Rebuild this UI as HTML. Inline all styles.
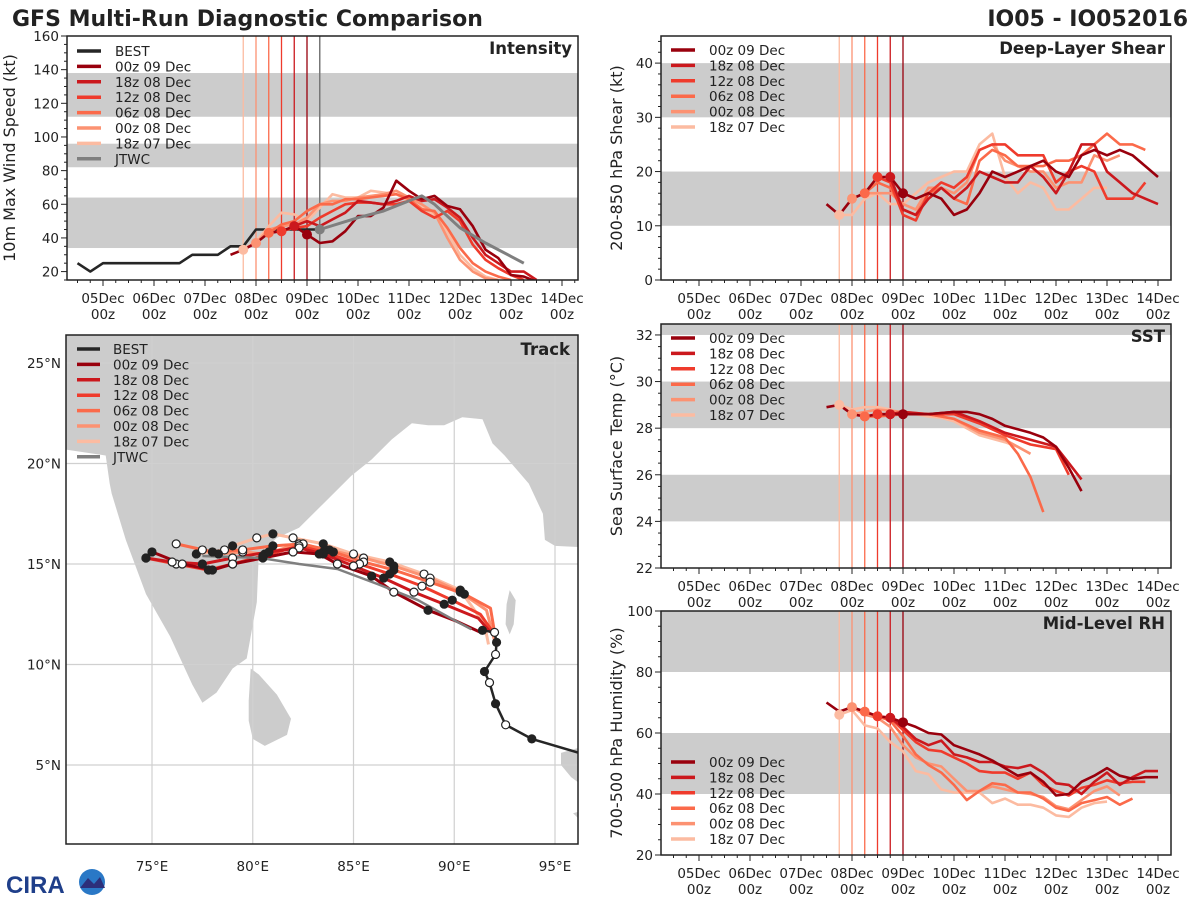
<!DOCTYPE html>
<html><head><meta charset="utf-8">
<style>
html,body{margin:0;padding:0;background:#fff;}
svg{display:block;font-family:"DejaVu Sans","Liberation Sans",sans-serif;}
</style></head>
<body>
<svg id="fig" width="1200" height="900" viewBox="0 0 1200 900" xmlns="http://www.w3.org/2000/svg">
<text x="12" y="26" font-size="22" font-weight="bold" fill="#222">GFS Multi-Run Diagnostic Comparison</text>
<text x="1188" y="26" font-size="22" font-weight="bold" fill="#222" text-anchor="end">IO05 - IO052016</text>
<g>
<text x="6" y="893" font-size="24" font-weight="bold" fill="#1f3f8a" font-family="Liberation Sans, sans-serif">CIRA</text>
<circle cx="92" cy="882" r="13" fill="#2a78c6"/>
<path d="M80,888 L88,878 L94,884 L100,877 L105,888 Z" fill="#2d2f7a"/>
</g>
</svg>
<script>
// ---------- DATA ----------
const modelNames = ["00z 09 Dec","18z 08 Dec","12z 08 Dec","06z 08 Dec","00z 08 Dec","18z 07 Dec"];
const modelColors = ["#99000d","#cb181d","#ef3b2c","#fb6a4a","#fc9272","#fcbba1"];
const modelInitTimes = [4.0,3.75,3.5,3.25,3.0,2.75]; // days since 05Dec 00z
const modelStartTimes = [2.5,3.75,3.5,3.25,3.0,2.75];
const timeStep = 0.25;
const dayTickLabels = ["05Dec","06Dec","07Dec","08Dec","09Dec","10Dec","11Dec","12Dec","13Dec","14Dec"];
const hourTickLabel = "00z";

const intensityM0 = [30,33,37,43,44,47,42,37,38,44,53,53,58,74,68,63,65,59,57,47,33,28,18,17,14];
const intensityM1 = [47,50,47,51,55,62,61,60,62,65,62,63,58,52,40,30,25,20,20,15];
const intensityM2 = [44,46,47,52,56,60,61,61,60,60,62,56,52,56,50,36,27,22,18,15];
const intensityM3 = [43,48,50,56,60,60,63,63,64,65,66,63,57,56,46,34,25,20,17,15];
const intensityM4 = [37,45,47,48,52,60,62,62,64,65,66,68,64,60,55,40,27,20,16,15];
const intensityM5 = [33,38,47,55,54,50,58,66,64,64,68,67,66,62,58,54,44,30,22,17,15];
const bestTimes = [-0.5,-0.25,0,0.25,0.5,0.75,1,1.25,1.5,1.75,2,2.25,2.5,2.75,3,3.25,3.5,3.75,4,4.25];
const bestIntensity = [25,20,25,25,25,25,25,25,25,30,30,30,35,35,45,45,45,45,45,45];
const jtwcTimes = [4.25,5,5.5,6,6.25,6.5,7,7.5,8,8.25];
const jtwcIntensity = [45,52,56,62,65,60,46,37,29,25];

const shearM0 = [14,12,15,16,19,19,16,15,16,15,12,13,16,20,19,20,21,22,20,19,23,24,23,24,23,21,19];
const shearM1 = [19,13,12,15,17,15,17,20,19,18,18,21,19,16,20,25,25,20,18,16,15,14];
const shearM2 = [19,18,12,11,16,18,17,19,24,25,25,23,23,23,18,20,21,20,15,15,15,18];
const shearM3 = [16,18,17,13,12,16,17,15,14,22,24,23,21,21,21,22,22,23,25,27,25,25,24];
const shearM4 = [15,16,16,16,14,13,17,17,16,18,24,25,22,21,20,20,17,18,18,23,22,23];
const shearM5 = [12,12,15,16,14,14,16,18,19,20,20,25,27,19,16,18,17,13,13,15,17,17];

const sstM0 = [28.9,29.0,28.6,28.5,28.6,28.6,28.6,28.6,28.6,28.65,28.7,28.7,28.6,28.4,28.1,27.95,27.8,27.6,27.2,26.3,25.3];
const sstM1 = [28.6,28.7,28.65,28.6,28.65,28.7,28.5,28.3,28.05,27.8,27.65,27.5,27.35,27.2,26.5,25.8];
const sstM2 = [28.6,28.6,28.6,28.6,28.6,28.6,28.6,28.4,28.2,27.95,27.7,27.5,27.3,27.2,27.1,26.0];
const sstM3 = [28.5,28.5,28.55,28.6,28.6,28.6,28.5,28.4,28.15,27.9,27.75,27.6,26.9,25.9,24.4];
const sstM4 = [28.6,28.7,28.8,28.75,28.7,28.65,28.6,28.5,28.4,28.1,27.8,27.65,27.5,27.2,26.9];
const sstM5 = [29.0,28.8,28.9,28.9,28.8,28.6,28.6,28.5,28.45,28.3,28.0,27.7,27.55,27.4,27.2];

const rhM0 = [70,67,68.5,67,65.5,65,63.5,62,60,59.5,56,54.5,53,51,48.5,46,47,44,39.5,40,44,46,48.5,46,45,45.5,45.5];
const rhM1 = [65,62,58,56,57.5,53,52,50.5,50.5,49,48.5,49.5,47,43.5,43,40,44,47,43,45.5,47.5,47.5];
const rhM2 = [65.5,65,61,57,54.5,54,52,50,47.5,47,47,45,47,43,41,39.5,42,43,44.5,43.5,44,44];
const rhM3 = [67,65.5,64,59,53,49.5,47,43,38,41,43.5,43,40.5,40.5,38.5,35.5,34.5,37,38,39,36.5,38.5];
const rhM4 = [68.5,66,65,62,56,52,50,49,45,41,41,42.5,41.5,40.5,40,39,36,35,38,41,42.5,39.5];
const rhM5 = [66,67.5,62.5,61.5,57,54,47.5,46.5,41.5,40.5,40.5,40.5,37,38.5,36.5,36.5,35.5,33,32.5,35.5,37,37.5];

const bestTrackLon = [96.2,93.85,92.55,92.05,91.75,91.5,92.05,92.1,92.0,91.4];
const bestTrackLat = [5.6,6.3,7.0,8.05,9.1,9.65,10.5,11.1,11.6,11.7];
const jtwcTrackLon = [90.85,90.1,88.2,86.2,84.2,82.3,80.4,77.5];
const jtwcTrackLat = [11.75,12.15,13.2,14.0,14.75,15.0,15.3,15.4];
const trackM0Lon = [91.3,90.0,88.7,87.0,85.9,84.2,83.3,82.0,80.5,79.0,78.0,76.5,75.0];
const trackM0Lat = [11.6,12.2,12.7,13.6,14.4,15.0,15.5,15.6,15.3,15.0,14.7,15.0,15.6];
const trackM1Lon = [91.8,91.2,89.5,88.0,86.5,85.0,83.5,82.3,80.8,79.0,77.5,76.0,74.7];
const trackM1Lat = [11.6,12.3,13.0,13.6,14.3,14.9,15.5,15.8,15.6,15.3,15.0,15.1,15.3];
const trackM2Lon = [92.0,91.3,89.9,88.4,86.8,85.3,83.5,82.3,80.5,79.0,77.8,76.2,74.7];
const trackM2Lat = [11.5,12.5,13.2,13.9,14.5,15.0,15.6,15.9,15.4,15.0,14.7,15.0,15.3];
const trackM3Lon = [92.0,91.8,90.5,88.8,87.0,85.5,84.0,82.5,81.0,79.5,78.0,76.2];
const trackM3Lat = [11.6,12.8,13.5,14.1,14.7,15.1,15.6,16.0,15.9,15.7,15.6,16.0];
const trackM4Lon = [92.0,91.6,90.3,88.8,87.0,85.5,83.8,82.3,80.6,79.5,78.3,77.5];
const trackM4Lat = [11.2,12.7,13.6,14.3,14.9,15.3,15.7,16.0,15.5,15.6,15.5,15.7];
const trackM5Lon = [91.7,91.5,90.3,88.5,86.8,85.0,83.5,82.0,81.0,80.2,79.0,78.6,77.2];
const trackM5Lat = [11.0,12.0,13.7,14.5,15.1,15.5,16.0,16.3,16.5,16.3,15.9,15.7,15.5];

const latTickLabels = [5,10,15,20,25];
const lonTickLabels = [75,80,85,90,95];

// ---------- HELPERS ----------
const NS = "http://www.w3.org/2000/svg";
const fig = document.getElementById("fig");
function mk(tag, attrs, parent){
  const e = document.createElementNS(NS, tag);
  for (const k in attrs) e.setAttribute(k, attrs[k]);
  (parent||fig).appendChild(e);
  return e;
}
const intensitySeries = [intensityM0,intensityM1,intensityM2,intensityM3,intensityM4,intensityM5];
const shearSeries = [shearM0,shearM1,shearM2,shearM3,shearM4,shearM5];
const sstSeries = [sstM0,sstM1,sstM2,sstM3,sstM4,sstM5];
const rhSeries = [rhM0,rhM1,rhM2,rhM3,rhM4,rhM5];
const trackLons = [trackM0Lon,trackM1Lon,trackM2Lon,trackM3Lon,trackM4Lon,trackM5Lon];
const trackLats = [trackM0Lat,trackM1Lat,trackM2Lat,trackM3Lat,trackM4Lat,trackM5Lat];

function panel(cfg){
  const g = mk("g", {});
  
  
  const {L,R,T,B,ymin,ymax,x0} = cfg;
  const pxDay = 51.0;
  const X = t => x0 + t*pxDay;
  const Y = v => B - (v-ymin)/(ymax-ymin)*(B-T);
  const clipId = cfg.name+"-clip";
  const cp = mk("clipPath",{id:clipId},g);
  mk("rect",{x:L,y:T,width:R-L,height:B-T},cp);
  cfg.bands.forEach(b=>{
    const r = mk("rect",{x:L,y:Y(Math.min(b[1],ymax)),width:R-L,height:Y(b[0])-Y(Math.min(b[1],ymax)),fill:"#cccccc"},g);
    
    
  });
  const plot = mk("g",{"clip-path":"url(#"+clipId+")"},g);
  modelInitTimes.forEach((t,i)=>{
    const l = mk("line",{x1:X(t),x2:X(t),y1:T,y2:B,stroke:modelColors[i],"stroke-width":1.3},plot);
    
    
  });
  if (cfg.jtwcLine){
    const l = mk("line",{x1:X(4.25),x2:X(4.25),y1:T,y2:B,stroke:"#777","stroke-width":1.5},plot);
    
    
  }
  function series(times, vals, color, name, w){
    const pts = vals.map((v,k)=>X(times[k]).toFixed(1)+","+Y(v).toFixed(1)).join(" ");
    const p = mk("polyline",{points:pts,fill:"none",stroke:color,"stroke-width":w||2.6,"stroke-linejoin":"round"},plot);
    
    
  }
  if (cfg.best){
    series(bestTimes,bestIntensity,"#262626","best-intensity-line");
  }
  for (let i=5;i>=0;i--){
    const vals = cfg.series[i];
    const times = vals.map((v,k)=>modelStartTimes[i]+k*timeStep);
    series(times, vals, modelColors[i], "series-"+modelNames[i].replace(/ /g,'-').toLowerCase());
  }
  if (cfg.best){
    series(jtwcTimes,jtwcIntensity,"#7f7f7f","jtwc-intensity-line",3);
  }
  for (let i=5;i>=0;i--){
    const idx = Math.round((modelInitTimes[i]-modelStartTimes[i])/timeStep);
    const v = cfg.series[i][idx];
    const c = mk("circle",{cx:X(modelInitTimes[i]),cy:Y(v),r:5,fill:modelColors[i]},plot);
    
    
  }
  if (cfg.best){
    const c = mk("circle",{cx:X(jtwcTimes[0]),cy:Y(jtwcIntensity[0]),r:5,fill:"#7f7f7f"},plot);
    
    
  }
  const fr = mk("rect",{x:L,y:T,width:R-L,height:B-T,fill:"none",stroke:"#222","stroke-width":1.5},g);
  
  
  for (let q=-2;q<=37;q++){
    const t = q*0.25;
    const x = X(t);
    if (x<=L+1||x>=R-1) continue;
    const major = q%4===0;
    mk("line",{x1:x,x2:x,y1:B,y2:B+(major?6:3),stroke:"#222","stroke-width":1},g);
  }
  dayTickLabels.forEach((lab,d)=>{
    const t1 = mk("text",{x:X(d),y:B+23,"font-size":13.5,"text-anchor":"middle",fill:"#222"},g);
    t1.textContent = lab;
    
    
    const t2 = mk("text",{x:X(d),y:B+39,"font-size":13.5,"text-anchor":"middle",fill:"#222"},g);
    t2.textContent = hourTickLabel;
    
    
  });
  for (let v=ymin; v<=ymax+1e-6; v+=cfg.minor){
    const vv = Math.round(v*100)/100;
    const major = Math.abs(vv/cfg.major - Math.round(vv/cfg.major))<1e-6;
    mk("line",{x1:L-(major?6:3),x2:L,y1:Y(vv),y2:Y(vv),stroke:"#222","stroke-width":1},g);
    if (major && vv>=cfg.firstLabel){
      const t = mk("text",{x:L-8,y:Y(vv)+5,"font-size":13.5,"text-anchor":"end",fill:"#222"},g);
      t.textContent = vv;
      
      
    }
  }
  const yl = mk("text",{x:0,y:0,"font-size":16,"text-anchor":"middle",fill:"#222",transform:`translate(${cfg.ylabX},${(T+B)/2}) rotate(-90)`},g);
  yl.textContent = cfg.ylabel;
  
  
  const tt = mk("text",{x:R-6,y:T+18,"font-size":16.5,"font-weight":"bold","text-anchor":"end",fill:"#222"},g);
  tt.textContent = cfg.title;
  
  
  let entries = [];
  if (cfg.best) entries.push(["BEST","#262626"]);
  modelNames.forEach((n,i)=>entries.push([n,modelColors[i]]));
  if (cfg.best) entries.push(["JTWC","#7f7f7f"]);
  entries.forEach((e,k)=>{
    const y = cfg.legY + k*15.4;
    const ln = mk("line",{x1:L+10,x2:L+34,y1:y,y2:y,stroke:e[1],"stroke-width":3.5},g);
    
    
    const tx = mk("text",{x:L+48,y:y+5,"font-size":13.5,fill:"#222"},g);
    tx.textContent = e[0];
    
    
  });
}

panel({name:"intensity-panel",L:67,R:578,T:36,B:280,ymin:15,ymax:160,x0:103,major:20,minor:5,firstLabel:20,
  bands:[[34,64],[82,96],[112,138]],series:intensitySeries,best:true,jtwcLine:true,
  ylabel:"10m Max Wind Speed (kt)",ylabX:15,title:"Intensity",legY:51});
panel({name:"shear-panel",L:661,R:1171,T:36,B:280,ymin:0,ymax:45,x0:699,major:10,minor:2,firstLabel:0,
  bands:[[10,20],[30,40]],series:shearSeries,best:false,
  ylabel:"200-850 hPa Shear (kt)",ylabX:622,title:"Deep-Layer Shear",legY:50});
panel({name:"sst-panel",L:661,R:1171,T:324,B:568,ymin:22,ymax:32.47,x0:699,major:2,minor:0.5,firstLabel:22,
  bands:[[24,26],[28,30],[32,33]],series:sstSeries,best:false,
  ylabel:"Sea Surface Temp (°C)",ylabX:622,title:"SST",legY:338});
panel({name:"rh-panel",L:661,R:1171,T:611,B:855,ymin:20,ymax:100,x0:699,major:20,minor:5,firstLabel:20,
  bands:[[40,60],[80,100]],series:rhSeries,best:false,
  ylabel:"700-500 hPa Humidity (%)",ylabX:622,title:"Mid-Level RH",legY:762});

// ---------- TRACK MAP ----------
(function(){
  const L=66,R=578,T=335,B=844;
  const MX = lon => 152+(lon-75)*20.15;
  const MY = lat => 765-(lat-5)*20.1;
  const g = mk("g",{});
  
  
  const cp = mk("clipPath",{id:"mapclip"},g);
  mk("rect",{x:L,y:T,width:R-L,height:B-T},cp);
  const m = mk("g",{"clip-path":"url(#mapclip)"},g);
  mk("rect",{x:L,y:T,width:R-L,height:B-T,fill:"#fff"},m);
  const mainland = [[70,27],[70,20.8],[72.7,20.4],[72.9,19],[73,18.5],[73.7,16.2],[74.7,13.5],[75.9,11.4],[77,9],[77.5,8.1],[78.2,8.6],[79,9.8],[79.7,10.3],[79.9,11.4],[80.2,13.1],[80.3,15.5],[81.2,16.3],[82.3,16.8],[83.7,18.2],[84.9,19.4],[85.9,20.2],[86.9,21.2],[87.9,22.0],[88.7,21.9],[89.5,21.9],[90.4,22.3],[91.4,22.2],[91.9,21],[92.5,20.4],[93.7,19],[94.4,17.5],[94.5,16.2],[95,15.9],[97,15.8],[97,27]];
  const srilanka = [[79.9,9.8],[80.3,9.5],[81.2,8.5],[81.9,7.3],[81.7,6.5],[80.6,5.95],[80.0,6.3],[79.8,7.2],[79.8,8.2]];
  const andaman = [[92.75,13.7],[93.05,13.2],[92.95,12.0],[92.75,11.5],[92.55,12.0],[92.6,13.0]];
  const sumatra = [[97,6.1],[95.3,5.6],[95.3,5.0],[95.8,4.4],[97,3.5]];
  const sumatra2 = [[97,2.9],[95.9,2.6],[96.3,2.2],[97,2.0]];
  [mainland,srilanka,andaman,sumatra,sumatra2].forEach(poly=>{
    const p = mk("polygon",{points:poly.map(q=>MX(q[0]).toFixed(1)+","+MY(q[1]).toFixed(1)).join(" "),fill:"#cccccc"},m);
    
    
  });
  lonTickLabels.forEach(lon=>{
    mk("line",{x1:MX(lon),x2:MX(lon),y1:T,y2:B,stroke:"#d0d0d0","stroke-width":1.2},m);
    const t = mk("text",{x:MX(lon),y:B+27,"font-size":13.5,"text-anchor":"middle",fill:"#222"},g);
    t.textContent = lon+"°E";
    
    
  });
  latTickLabels.forEach(lat=>{
    mk("line",{x1:L,x2:R,y1:MY(lat),y2:MY(lat),stroke:"#d0d0d0","stroke-width":1.2},m);
    const t = mk("text",{x:L-5,y:MY(lat)+5,"font-size":13.5,"text-anchor":"end",fill:"#222"},g);
    t.textContent = lat+"°N";
    
    
  });
  function track(lons,lats,color,name,w){
    const pts = lons.map((lo,k)=>MX(lo).toFixed(1)+","+MY(lats[k]).toFixed(1)).join(" ");
    const p = mk("polyline",{points:pts,fill:"none",stroke:color,"stroke-width":w||3,"stroke-linejoin":"round"},m);
    
    
  }
  function dots(lons,lats,name){
    lons.forEach((lo,k)=>{
      const white = k%2===1;
      const c = mk("circle",{cx:MX(lo),cy:MY(lats[k]),r:4,fill:white?"#fff":"#222",stroke:"#222","stroke-width":1.2},m);
      
      
    });
  }
  for (let i=5;i>=0;i--) track(trackLons[i],trackLats[i],modelColors[i],"track-"+modelNames[i].replace(/ /g,'-').toLowerCase());
  track(jtwcTrackLon,jtwcTrackLat,"#7f7f7f","jtwc-track",2.5);
  track(bestTrackLon,bestTrackLat,"#262626","best-track",2.5);
  for (let i=5;i>=0;i--) dots(trackLons[i].slice(2),trackLats[i].slice(2),"track-point");
  dots(bestTrackLon.slice(1),bestTrackLat.slice(1),"best-track-point");
  const fr = mk("rect",{x:L,y:T,width:R-L,height:B-T,fill:"none",stroke:"#222","stroke-width":1.5},g);
  
  
  const tt = mk("text",{x:R-8,y:T+20,"font-size":16.5,"font-weight":"bold","text-anchor":"end",fill:"#222"},g);
  tt.textContent = "Track";
  
  
  const entries = [["BEST","#262626"]].concat(modelNames.map((n,i)=>[n,modelColors[i]])).concat([["JTWC","#7f7f7f"]]);
  entries.forEach((e,k)=>{
    const y = 349 + k*15.4;
    const ln = mk("line",{x1:77,x2:100,y1:y,y2:y,stroke:e[1],"stroke-width":3.5},g);
    
    
    const tx = mk("text",{x:113,y:y+5,"font-size":13.5,fill:"#222"},g);
    tx.textContent = e[0];
    
    
  });
})();
</script>
</body></html>
